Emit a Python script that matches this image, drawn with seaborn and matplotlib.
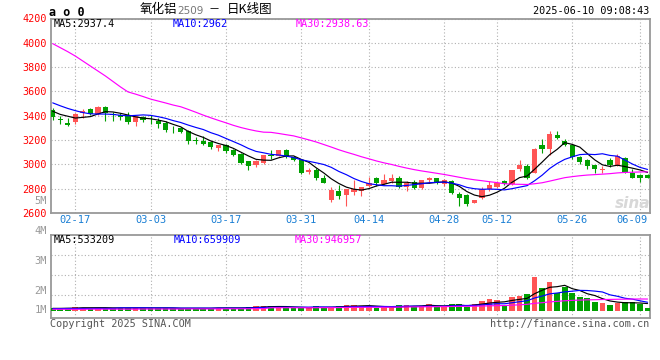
import matplotlib
matplotlib.use("Agg")
import matplotlib.pyplot as plt
import matplotlib.transforms as mtransforms
import seaborn as sns
import numpy as np
import pandas as pd

# ---------------- data ----------------
dates = ["02-12", "02-13", "02-14", "02-17", "02-18", "02-19", "02-20", "02-21",
         "02-24", "02-25", "02-26", "02-27", "02-28",
         "03-03", "03-04", "03-05", "03-06", "03-07", "03-10", "03-11", "03-12",
         "03-13", "03-14", "03-17", "03-18", "03-19", "03-20", "03-21", "03-24",
         "03-25", "03-26", "03-27", "03-28", "03-31",
         "04-01", "04-02", "04-03", "04-07", "04-08", "04-09", "04-10", "04-11",
         "04-14", "04-15", "04-16", "04-17", "04-18", "04-21", "04-22", "04-23",
         "04-24", "04-25", "04-28", "04-29", "04-30",
         "05-06", "05-07", "05-08", "05-09", "05-12", "05-13", "05-14", "05-15",
         "05-16", "05-19", "05-20", "05-21", "05-22", "05-23", "05-26", "05-27",
         "05-28", "05-29", "05-30",
         "06-03", "06-04", "06-05", "06-06", "06-09", "06-10"]

open_ = [3449, 3367, 3343, 3345, 3422, 3457, 3416, 3474, 3416, 3403,
         3403, 3348, 3386, 3381, 3354, 3337, 3291, 3299, 3272, 3196,
         3195, 3185, 3135, 3163, 3116, 3086, 3026, 2994, 3013, 3081,
         3067, 3116, 3059, 3032, 2936, 2953, 2890, 2705, 2781, 2748,
         2773, 2781, 2822, 2885, 2841, 2863, 2885, 2814, 2857, 2808,
         2868, 2885, 2836, 2863, 2754, 2746, 2686, 2727, 2795, 2817,
         2863, 2836, 2958, 2985, 2931, 3157, 3130, 3239, 3196, 3157,
         3059, 3032, 2994, 2955, 3032, 2994, 3054, 2931, 2909, 2909]
high = [3463, 3400, 3381, 3422, 3457, 3463, 3482, 3482, 3430, 3422,
        3430, 3400, 3400, 3403, 3381, 3354, 3313, 3307, 3280, 3223,
        3231, 3190, 3163, 3168, 3127, 3095, 3026, 3032, 3081, 3122,
        3122, 3127, 3073, 3040, 2972, 2972, 2909, 2815, 2827, 2800,
        2868, 2814, 2896, 2896, 2923, 2923, 2904, 2863, 2868, 2868,
        2896, 2885, 2877, 2868, 2773, 2754, 2705, 2814, 2863, 2863,
        2871, 2950, 3032, 3005, 3135, 3209, 3277, 3277, 3209, 3168,
        3067, 3048, 2994, 2985, 3054, 3086, 3059, 2958, 2917, 2917]
low = [3367, 3335, 3313, 3332, 3381, 3408, 3408, 3354, 3354, 3367,
       3335, 3313, 3345, 3335, 3299, 3266, 3258, 3258, 3171, 3168,
       3157, 3130, 3108, 3095, 3070, 2999, 2953, 2977, 3005, 3045,
       3067, 3054, 3026, 2923, 2917, 2871, 2844, 2690, 2718, 2658,
       2746, 2740, 2816, 2822, 2827, 2849, 2808, 2781, 2795, 2800,
       2849, 2836, 2822, 2754, 2658, 2658, 2686, 2713, 2781, 2808,
       2830, 2830, 2945, 2876, 2926, 3095, 3076, 3209, 3149, 3048,
       2999, 2966, 2926, 2931, 2977, 2985, 2926, 2885, 2857, 2890]
close = [3386, 3365, 3326, 3416, 3441, 3416, 3474, 3422, 3403, 3386,
         3345, 3400, 3367, 3378, 3332, 3280, 3288, 3266, 3190, 3194,
         3171, 3141, 3163, 3108, 3075, 3013, 2986, 3026, 3075, 3067,
         3116, 3059, 3032, 2931, 2950, 2885, 2849, 2790, 2740, 2800,
         2800, 2814, 2849, 2849, 2868, 2885, 2814, 2849, 2808, 2868,
         2885, 2849, 2868, 2767, 2727, 2672, 2705, 2800, 2827, 2849,
         2836, 2950, 2994, 2890, 3130, 3130, 3253, 3217, 3163, 3059,
         3018, 2985, 2958, 2961, 2994, 3067, 2931, 2890, 2890, 2890]
volume_m = [0.21, 0.21, 0.21, 0.28, 0.23, 0.21, 0.23, 0.21, 0.21, 0.21,
            0.21, 0.23, 0.21, 0.21, 0.21, 0.21, 0.21, 0.10, 0.21, 0.21,
            0.21, 0.21, 0.23, 0.21, 0.21, 0.21, 0.28, 0.36, 0.36, 0.36,
            0.26, 0.26, 0.21, 0.23, 0.23, 0.36, 0.26, 0.26, 0.36, 0.44,
            0.44, 0.36, 0.36, 0.18, 0.26, 0.26, 0.44, 0.44, 0.36, 0.36,
            0.52, 0.26, 0.36, 0.52, 0.52, 0.26, 0.52, 0.75, 0.90, 0.83,
            0.44, 1.06, 1.16, 1.29, 2.64, 1.76, 2.22, 1.40, 1.81, 1.34,
            1.06, 0.96, 0.70, 0.62, 0.44, 0.62, 0.70, 0.70, 0.52, 0.23]

# moving-average values before enough visible history exists
ma5_head = [3437, 3411, 3396, 3381]
ma10_head = [3506, 3482, 3460, 3442, 3426, 3416, 3414, 3414, 3411]
ma30_head = [3993, 3960, 3927, 3891, 3850, 3809, 3768, 3727, 3682, 3637,
             3596, 3578, 3558, 3537, 3521, 3505, 3488, 3474, 3452, 3429,
             3405, 3383, 3362, 3342, 3321, 3303, 3288, 3275, 3265]
vol_ma5_head = [0.18, 0.18, 0.19, 0.20]
vol_ma10_head = [0.16, 0.16, 0.17, 0.17, 0.17, 0.17, 0.18, 0.18, 0.18]
vol_ma30_head = [0.11, 0.11, 0.11, 0.11, 0.11, 0.12, 0.12, 0.12, 0.12, 0.12,
                 0.12, 0.12, 0.13, 0.13, 0.13, 0.13, 0.13, 0.13, 0.14, 0.14,
                 0.14, 0.14, 0.14, 0.15, 0.15, 0.15, 0.15, 0.16, 0.16]

date_ticks = ["02-17", "03-03", "03-17", "03-31", "04-14", "04-28", "05-12", "05-26", "06-09"]
price_ticks = [2600, 2800, 3000, 3200, 3400, 3600, 3800, 4000, 4200]
vol_labels = ["5M", "4M", "3M", "2M", "1M"]

title_name = "氧化铝"
title_code = "2509"
title_kind = "日K线图"
timestamp = "2025-06-10 09:08:43"
price_ma_text = ["MA5:2937.4", "MA10:2962", "MA30:2938.63"]
vol_ma_text = ["MA5:533209", "MA10:659909", "MA30:946957"]

# ---------------- style ----------------
sns.set_style("white")
plt.rcParams["font.family"] = ["DejaVu Sans Mono", "Noto Sans CJK SC"]

RED = "#ff5555"
GREEN = "#00a000"
GRID = "#b0b0b0"
BORDER = "#999999"
MA_COLORS = ["#000000", "#0000ff", "#ff00ff"]

n = len(dates)
idx = np.arange(n)
o = np.array(open_, float)
c = np.array(close, float)
up = c >= o
colors = np.where(up, RED, GREEN)


def moving_average(values, window, head):
    s = pd.Series(values, dtype=float).rolling(window).mean()
    s.iloc[:window - 1] = head
    return s.values


ma5 = moving_average(close, 5, ma5_head)
ma10 = moving_average(close, 10, ma10_head)
ma30 = moving_average(close, 30, ma30_head)
vma5 = moving_average(volume_m, 5, vol_ma5_head)
vma10 = moving_average(volume_m, 10, vol_ma10_head)
vma30 = moving_average(volume_m, 30, vol_ma30_head)

W, H = 660, 360
fig = plt.figure(figsize=(W / 100, H / 100), dpi=100)
fig.patch.set_facecolor("white")


def fx(x):
    return x / W


def fy(y):
    return 1 - y / H


ax = fig.add_axes([fx(50.7), fy(213), (649.5 - 50.7) / W, (213 - 18.5) / H])
axv = fig.add_axes([fx(50.7), fy(318), (649.5 - 50.7) / W, (318 - 234.7) / H])

xlim = (-0.27, 79.26)
tick_pos = [dates.index(d) for d in date_ticks]

# ---------------- price panel ----------------
body_h = np.maximum(np.abs(c - o), 7)
ax.vlines(idx, low, high, colors=colors, lw=0.8, zorder=2)
ax.bar(idx, body_h, bottom=np.minimum(o, c), width=0.7, color=colors,
       linewidth=0, zorder=3)
for vals, col in zip([ma5, ma10, ma30], MA_COLORS):
    sns.lineplot(x=idx, y=vals, ax=ax, color=col, lw=0.85, zorder=4)

ax.set_xlim(*xlim)
ax.set_ylim(2600, 4200)
ax.set_yticks(price_ticks)
ax.set_yticklabels([str(v) for v in price_ticks], color="#ff0000", fontsize=7.3)
ax.set_xticks(tick_pos)
ax.set_xticklabels(date_ticks, color="#1a7fd4", fontsize=7.5)
ax.tick_params(axis="both", length=0)
ax.tick_params(axis="y", pad=3)
ax.tick_params(axis="x", pad=1.5)
last = ax.get_xticklabels()[-1]
last.set_horizontalalignment("right")
last.set_transform(last.get_transform() + mtransforms.ScaledTranslation(8 / 100, 0, fig.dpi_scale_trans))
ax.set_xlabel("")
ax.set_ylabel("")
ax.grid(True, color=GRID, linestyle=(0, (1, 2)), lw=0.8)
ax.set_axisbelow(True)

# ---------------- volume panel ----------------
dfv = pd.DataFrame({"idx": idx, "vol": volume_m,
                    "dir": np.where(up, "up", "down")})
sns.barplot(data=dfv, x="idx", y="vol", hue="dir", palette={"up": RED, "down": GREEN},
            dodge=False, native_scale=True, width=0.75, saturation=1,
            errorbar=None, legend=False, ax=axv, linewidth=0, zorder=3)
for vals, col in zip([vma5, vma10, vma30], MA_COLORS):
    sns.lineplot(x=idx, y=vals, ax=axv, color=col, lw=0.85, zorder=4)
axv.set_xlim(*xlim)
axv.set_ylim(-0.566, 5.89)
axv.set_xticks(tick_pos)
axv.set_xticklabels([])
axv.set_yticks([1.22, 2.77, 4.32])
axv.set_yticklabels([])
axv.tick_params(axis="both", length=0)
axv.set_xlabel("")
axv.set_ylabel("")
axv.grid(True, color=GRID, linestyle=(0, (1, 2)), lw=0.8)
axv.set_axisbelow(True)

for a in (ax, axv):
    a.set_facecolor("white")
    for s in a.spines.values():
        s.set_color(BORDER)
        s.set_linewidth(1.3)
        s.set_visible(True)

# volume axis labels
for lab, y in zip(vol_labels, [201, 231, 261, 291, 310]):
    fig.text(fx(47), fy(y), lab, ha="right", va="center", color="#999999", fontsize=7.5)

# ---------------- texts ----------------
fig.text(fx(49), fy(12), "a o 0", ha="left", va="center", fontsize=8.5,
         fontweight="bold", color="black", family="DejaVu Sans Mono")
fig.text(fx(140), fy(10), title_name, ha="left", va="center", fontsize=9,
         color="black", family="Noto Sans CJK SC")
fig.text(fx(177), fy(11), title_code, ha="left", va="center", fontsize=7.5,
         color="#777777", family="DejaVu Sans")
fig.text(fx(214), fy(10), "－", ha="center", va="center", fontsize=8,
         color="black", family="Noto Sans CJK SC")
fig.text(fx(227), fy(10), title_kind, ha="left", va="center", fontsize=9,
         color="black", family="Noto Sans CJK SC")
fig.text(fx(649), fy(11), timestamp, ha="right", va="center", fontsize=7.3, color="black")

for txt, col, x in zip(price_ma_text, MA_COLORS, [54, 173, 296]):
    fig.text(fx(x), fy(24), txt, ha="left", va="center", fontsize=7.3, color=col)
for txt, col, x in zip(vol_ma_text, MA_COLORS, [54, 174, 295]):
    fig.text(fx(x), fy(240), txt, ha="left", va="center", fontsize=7.3, color=col)

fig.text(fx(50), fy(324), "Copyright 2025 SINA.COM", ha="left", va="center",
         fontsize=7.3, color="#555555")
fig.text(fx(649), fy(324), "http://finance.sina.com.cn", ha="right", va="center",
         fontsize=7.3, color="#555555")
fig.text(fx(633), fy(203), "sina", ha="center", va="center", fontsize=11,
         fontstyle="italic", fontweight="bold", color="#d8d8d8",
         family="DejaVu Sans", zorder=10)

fig.savefig("out.png", dpi=100, facecolor="white")
